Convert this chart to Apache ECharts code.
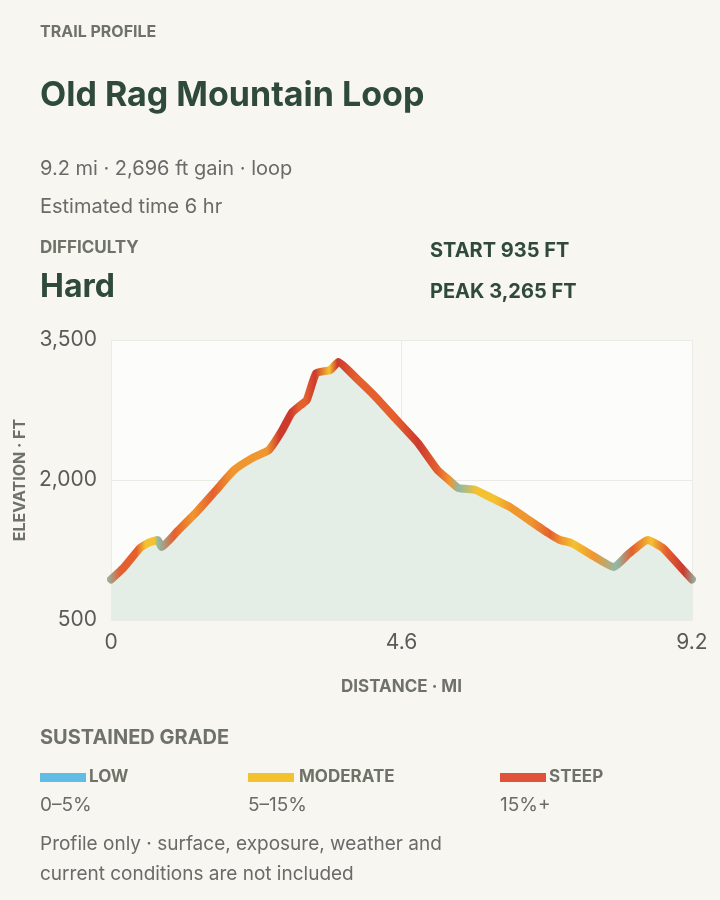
<!DOCTYPE html>
<html><head><meta charset="utf-8">
<script src="https://cdn.jsdelivr.net/npm/echarts@6/dist/echarts.min.js"></script>
<style>html,body{margin:0;background:#f7f6f1}#c{width:720px;height:900px}</style>
</head><body><div id="c"></div>
<script>
const distance = [0,0.2,0.46,0.6,0.74,0.8,1.05,1.34,1.65,1.95,2.25,2.5,2.7,2.86,3.0,3.1,3.25,3.47,3.6,3.9,4.19,4.5,4.86,5.17,5.35,5.5,5.77,6.05,6.32,6.62,6.92,7.1,7.29,7.6,7.96,8.2,8.5,8.74,9.0,9.2];
const elevation = [935,1060,1271,1330,1357,1282,1450,1646,1880,2107,2240,2321,2520,2718,2800,2857,3146,3178,3265,3080,2889,2660,2396,2107,2000,1914,1893,1800,1710,1570,1432,1360,1325,1200,1067,1210,1357,1271,1080,935];
const grade = [3,17,17,6,9,4,17,14,16,12,13,12,20,22,18,16,19,9,20,18,16,18,20,17,12,3,6,9,12,14,16,10,5,12,4,17,8,18,20,3];
const gradeClasses = ['LOW','MODERATE','STEEP'];
const gradeRanges = ['0–5%','5–15%','15%+'];
const yTicks = [500,2000,3500];

const colLow='#62bde6', colMod='#f4c130', colSteep='#e1523a';
function gcol(g){ if(g<5) return '#8fb9a8'; if(g<10) return '#f4c130'; if(g<15) return '#f0962e'; if(g<19) return '#e4602f'; return '#cc3a2e'; }
const stops = distance.map((d,i)=>({offset:d/9.2,color:gcol(grade[i])}));

const ch = echarts.init(document.getElementById('c'));
const F='Inter, "Noto Sans", sans-serif';
const txt=(x,y,t,s,w,c,extra)=>Object.assign({type:'text',left:x,top:y,style:{text:t,fontSize:s,fontWeight:w,fill:c,fontFamily:F}},extra||{});
const G='#6f7269', D='#2f4a3a', T='#6a6a68';
ch.setOption({
  backgroundColor:'#f7f6f1',
  grid:{left:111,right:28,top:340,height:280,show:true,backgroundColor:'#fcfcfa',borderWidth:0},
  xAxis:{type:'value',min:0,max:9.2,interval:4.6,axisLine:{show:false},axisTick:{show:false},
    splitLine:{lineStyle:{color:'#ebebe6'}},
    axisLabel:{fontSize:21,color:'#5a5a58',fontFamily:F,margin:12,formatter:v=>v===0?'0':v.toFixed(1),showMinLabel:true,showMaxLabel:true},
    name:'DISTANCE · MI',nameLocation:'middle',nameGap:58,nameTextStyle:{fontSize:17,fontWeight:'bold',color:G,fontFamily:F}},
  yAxis:{type:'value',min:500,max:3500,interval:1500,axisLine:{show:false},axisTick:{show:false},
    splitLine:{lineStyle:{color:'#ebebe6'}},
    axisLabel:{fontSize:21,color:'#5a5a58',fontFamily:F,margin:14,formatter:v=>v.toLocaleString('en-US')},
    name:'ELEVATION · FT',nameLocation:'middle',nameGap:83,nameTextStyle:{fontSize:16,fontWeight:'bold',color:G,fontFamily:F}},
  series:[{type:'line',data:distance.map((d,i)=>[d,elevation[i]]),smooth:0.15,symbol:'none',
    lineStyle:{width:8,cap:'round',join:'round',color:new echarts.graphic.LinearGradient(0,0,1,0,stops)},
    areaStyle:{color:'#e5eee6',opacity:1}}],
  graphic:[
    txt(40,24,'TRAIL PROFILE',16,'bold',G),
    txt(40,79,'Old Rag Mountain Loop',34,'bold',D),
    txt(40,159,'9.2 mi · 2,696 ft gain · loop',20,'normal',T),
    txt(40,197,'Estimated time 6 hr',20,'normal',T),
    txt(40,239,'DIFFICULTY',17,'bold',G),
    txt(40,271,'Hard',32,'bold',D),
    txt(430,241,'START 935 FT',20,'bold',D),
    txt(430,282,'PEAK 3,265 FT',20,'bold',D),
    txt(40,728,'SUSTAINED GRADE',20,'bold',G),
    {type:'rect',left:40,top:773,shape:{width:46,height:9},style:{fill:colLow}},
    {type:'rect',left:248,top:773,shape:{width:46,height:9},style:{fill:colMod}},
    {type:'rect',left:500,top:773,shape:{width:46,height:9},style:{fill:colSteep}},
    txt(89,768,gradeClasses[0],17,'bold',G),
    txt(299,768,gradeClasses[1],17,'bold',G),
    txt(549,768,gradeClasses[2],17,'bold',G),
    txt(40,796,gradeRanges[0],19,'normal',T),
    txt(248,796,gradeRanges[1],19,'normal',T),
    txt(500,796,gradeRanges[2],19,'normal',T),
    txt(40,835,'Profile only · surface, exposure, weather and',19,'normal',T),
    txt(40,865,'current conditions are not included',19,'normal',T)
  ]
});
</script></body></html>
